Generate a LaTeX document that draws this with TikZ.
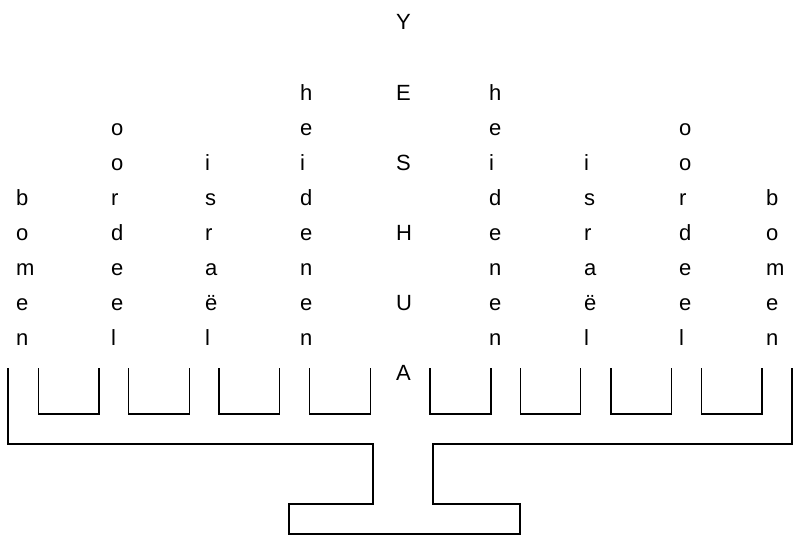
\documentclass[tikz,border=0pt]{standalone}
\usepackage{fontspec}
\setmainfont{Liberation Sans}
\newcommand\vcol[4]{\foreach \ch [count=\i from 0] in {#4} {\node[letter] (#1\i) at (#2,{#3+35*\i}) {\ch};}}
\begin{document}
\begin{tikzpicture}[x=1pt,y=-1pt,
  letter/.style={anchor=base west,inner sep=0pt,font=\fontsize{22}{22}\selectfont},
  frame/.style={line width=1.2pt,line join=miter}]
\useasboundingbox (0,0) rectangle (795,535);
% centre column
\foreach \ch [count=\i from 0] in {Y,E,S,H,U,A} {\node[letter] (c\i) at (396,{30+70*\i}) {\ch};}
% left columns
\vcol{bl}{16}{205}{b,o,m,e,n}
\vcol{ol}{111}{135}{o,o,r,d,e,e,l}
\vcol{il}{205}{170}{i,s,r,a,ë,l}
\vcol{hl}{300}{100}{h,e,i,d,e,n,e,n}
% right columns
\vcol{hr}{489}{100}{h,e,i,d,e,n,e,n}
\vcol{ir}{584}{170}{i,s,r,a,ë,l}
\vcol{or}{679}{135}{o,o,r,d,e,e,l}
\vcol{br}{766}{205}{b,o,m,e,n}
% base
\draw[frame] (8,368) -- (8,444) -- (373,444) -- (373,504) -- (289,504) -- (289,534)
  -- (520,534) -- (520,504) -- (433,504) -- (433,444) -- (792,444) -- (792,368);
% cups
\foreach \a/\b in {38.7/99, 128.7/189.7, 219/279.7, 309.7/370.3, 430/491, 520.7/580.7, 611/671.3, 701.3/762}
  {\draw[frame] (\a,368) -- (\a,414) -- (\b,414) -- (\b,368);}
\end{tikzpicture}
\end{document}
